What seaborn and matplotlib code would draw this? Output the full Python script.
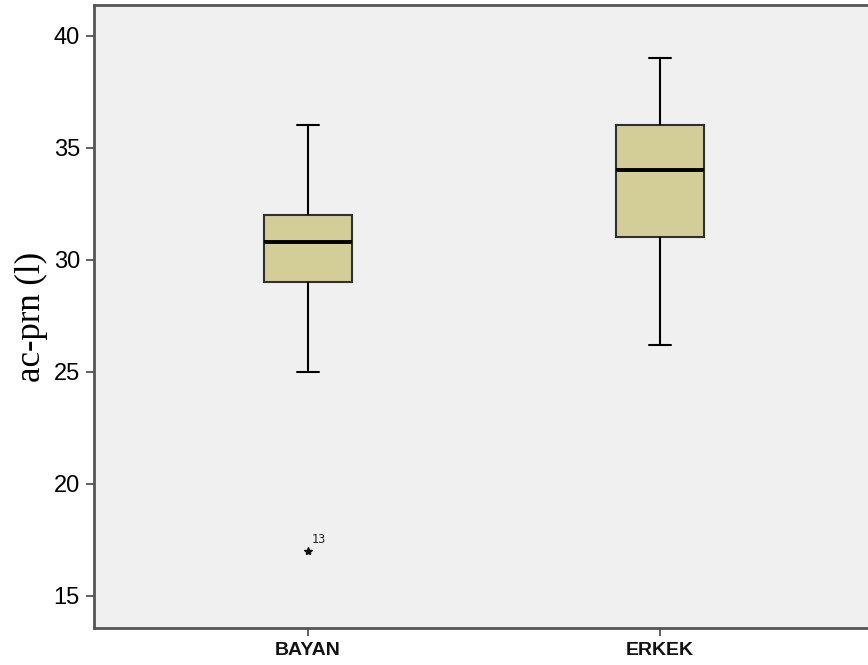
import seaborn as sns
import matplotlib.pyplot as plt
import pandas as pd

# raw values chosen so the box stats match the chart (Q1, median, Q3, whiskers, outlier)
groups = ["BAYAN", "ERKEK"]
bayan_vals = [17, 25, 29, 30, 30.8, 31, 32, 34, 36]
erkek_vals = [26.2, 28, 31, 33, 34, 35, 36, 37.5, 39]
outlier_label = "13"
outlier_value = 17
y_ticks = [15, 20, 25, 30, 35, 40]

df = pd.DataFrame({
    "group": [groups[0]] * len(bayan_vals) + [groups[1]] * len(erkek_vals),
    "value": bayan_vals + erkek_vals,
})

sns.set_style("white")
fig = plt.figure(figsize=(8.68, 6.65), dpi=100)
ax = fig.add_axes([0.108, 0.0556, 0.892, 0.937])
ax.set_facecolor("#f0f0f0")

sns.boxplot(data=df, x="group", y="value", order=groups, ax=ax, width=0.25,
            color="#d3cd98", saturation=1, linecolor="black", linewidth=1.5,
            whis=1.5, capwidths=0.0625,
            medianprops=dict(color="black", linewidth=2.8),
            boxprops=dict(edgecolor="#303030"),
            flierprops=dict(marker="*", markersize=6, markerfacecolor="#111111",
                            markeredgecolor="#111111"))

ax.annotate(outlier_label, xy=(0, outlier_value), xytext=(3, 6),
            textcoords="offset points", fontsize=8.5, family="DejaVu Sans Mono",
            color="#222222")

ax.set_xlim(-0.608, 1.59)
ax.set_ylim(13.57, 41.38)
ax.set_yticks(y_ticks)
ax.set_yticklabels([str(t) for t in y_ticks], fontsize=17, family="Liberation Sans",
                   color="black")
ax.set_xticks([0, 1])
ax.set_xticklabels(groups, fontsize=14, fontweight="bold", family="Liberation Sans",
                   color="#111111")
ax.tick_params(axis="both", direction="out", length=6, width=1.2, color="#444444",
               left=True, bottom=True, pad=4)
ax.set_xlabel("")
ax.set_ylabel("ac-prn (l)", fontsize=25, family="Liberation Serif", labelpad=4,
              color="black")

for side in ["left", "bottom", "top"]:
    ax.spines[side].set_color("#555555")
    ax.spines[side].set_linewidth(2)
ax.spines["right"].set_visible(False)

fig.savefig("out.png", dpi=100)
